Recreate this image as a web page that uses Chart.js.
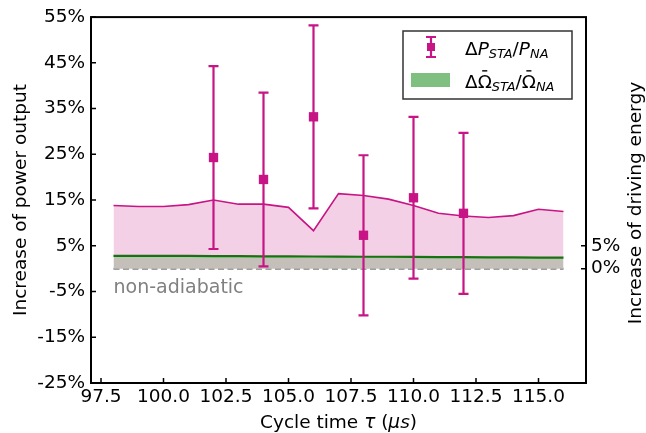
<!DOCTYPE html>
<html>
<head>
<meta charset="utf-8">
<script src="https://cdn.jsdelivr.net/npm/chart.js@4"></script>
<style>
  html, body { margin: 0; padding: 0; background: #fff; }
</style>
</head>
<body>
<canvas id="powerChart" width="646" height="433"></canvas>
<script>
// cycle times of the driving-energy band
const cycleTimes = [98, 99, 100, 101, 102, 103, 104, 105, 106, 107, 108, 109, 110, 111, 112, 113, 114, 115, 116];
const energyBand = [13.8, 13.6, 13.6, 14.0, 15.0, 14.1, 14.1, 13.4, 8.3, 16.4, 16.0, 15.2, 13.8, 12.1, 11.5, 11.2, 11.6, 13.0, 12.5];
const drivingEnergy = [2.8, 2.8, 2.8, 2.78, 2.75, 2.72, 2.7, 2.7, 2.66, 2.62, 2.6, 2.6, 2.56, 2.52, 2.5, 2.48, 2.45, 2.42, 2.4];

// measured power gain with error bars
const powerTimes = [102, 104, 106, 108, 110, 112];
const powerGain = [24.3, 19.5, 33.2, 7.3, 15.5, 12.1];
const powerErr = [20.0, 19.0, 20.0, 17.5, 17.7, 17.6];

const xTicks = [97.5, 100, 102.5, 105, 107.5, 110, 112.5, 115];
const leftTicks = [-25, -15, -5, 5, 15, 25, 35, 45, 55];
const rightTicks = [0, 5];

const FONT = '"DejaVu Sans", sans-serif';
const SIZE = 18.5;
const MAGENTA = '#c71585';

const pts = (xs, ys) => xs.map((x, i) => ({ x: x, y: ys[i] }));

// draw text made of upright / italic / subscript pieces
function drawRich(ctx, parts, x, y, size, align) {
  const fontOf = p => (p.italic ? 'italic ' : '') + (p.sub ? size * 0.7 : size) + 'px ' + FONT;
  let total = 0;
  parts.forEach(p => { ctx.font = fontOf(p); p.w = ctx.measureText(p.t).width; total += p.w; });
  let cx = align === 'center' ? x - total / 2 : x;
  ctx.textAlign = 'left';
  ctx.textBaseline = 'alphabetic';
  parts.forEach(p => {
    ctx.font = fontOf(p);
    ctx.fillText(p.t, cx, y + (p.sub ? size * 0.2 : 0));
    if (p.bar) {
      ctx.save();
      ctx.lineWidth = 1.4;
      ctx.strokeStyle = ctx.fillStyle;
      ctx.beginPath();
      ctx.moveTo(cx + p.w * 0.32, y - size * 0.9);
      ctx.lineTo(cx + p.w * 0.68, y - size * 0.9);
      ctx.stroke();
      ctx.restore();
    }
    cx += p.w;
  });
}

const errorBars = {
  id: 'errorBars',
  afterDatasetsDraw(chart) {
    const { ctx, scales: { x, y } } = chart;
    ctx.save();
    ctx.strokeStyle = MAGENTA;
    ctx.lineWidth = 2.2;
    powerTimes.forEach((t, i) => {
      const px = x.getPixelForValue(t);
      const top = y.getPixelForValue(powerGain[i] + powerErr[i]);
      const bot = y.getPixelForValue(powerGain[i] - powerErr[i]);
      ctx.beginPath();
      ctx.moveTo(px, top); ctx.lineTo(px, bot);
      ctx.moveTo(px - 5, top); ctx.lineTo(px + 5, top);
      ctx.moveTo(px - 5, bot); ctx.lineTo(px + 5, bot);
      ctx.stroke();
    });
    ctx.restore();
  }
};

const decorations = {
  id: 'decorations',
  afterDraw(chart) {
    const { ctx, chartArea: a, scales } = chart;
    ctx.save();

    // inward tick marks
    ctx.strokeStyle = '#000';
    ctx.lineWidth = 1.5;
    ctx.beginPath();
    scales.x.ticks.forEach(t => {
      const px = scales.x.getPixelForValue(t.value);
      ctx.moveTo(px, a.bottom); ctx.lineTo(px, a.bottom - 5);
    });
    scales.y.ticks.forEach(t => {
      const py = scales.y.getPixelForValue(t.value);
      ctx.moveTo(a.left, py); ctx.lineTo(a.left + 5, py);
    });
    scales.y2.ticks.forEach(t => {
      const py = scales.y2.getPixelForValue(t.value);
      ctx.moveTo(a.right, py); ctx.lineTo(a.right - 5, py);
    });
    ctx.stroke();

    // frame
    ctx.lineWidth = 2;
    ctx.strokeRect(a.left, a.top, a.right - a.left, a.bottom - a.top);

    // axis titles
    ctx.fillStyle = '#000';
    const midY = (a.top + a.bottom) / 2;
    ctx.save();
    ctx.translate(26, midY);
    ctx.rotate(-Math.PI / 2);
    drawRich(ctx, [{ t: 'Increase of power output' }], 0, 0, SIZE, 'center');
    ctx.restore();
    ctx.save();
    ctx.translate(641, midY + 3);
    ctx.rotate(-Math.PI / 2);
    drawRich(ctx, [{ t: 'Increase of driving energy' }], 0, 0, SIZE, 'center');
    ctx.restore();
    drawRich(ctx, [
      { t: 'Cycle time ' }, { t: 'τ', italic: true }, { t: ' (' },
      { t: 'μs', italic: true }, { t: ')' }
    ], (a.left + a.right) / 2, 428, SIZE, 'center');

    // reference level label
    ctx.fillStyle = '#808080';
    drawRich(ctx, [{ t: 'non-adiabatic' }], scales.x.getPixelForValue(98), scales.y.getPixelForValue(-5.3), 19, 'left');

    // legend
    ctx.fillStyle = '#fff';
    ctx.strokeStyle = '#333';
    ctx.lineWidth = 1.5;
    ctx.fillRect(403, 31, 169, 68);
    ctx.strokeRect(403, 31, 169, 68);

    ctx.strokeStyle = MAGENTA;
    ctx.fillStyle = MAGENTA;
    ctx.lineWidth = 2.2;
    ctx.beginPath();
    ctx.moveTo(431, 37); ctx.lineTo(431, 57);
    ctx.moveTo(426, 37); ctx.lineTo(436, 37);
    ctx.moveTo(426, 57); ctx.lineTo(436, 57);
    ctx.stroke();
    ctx.fillRect(427, 43, 8, 8);

    ctx.fillStyle = 'rgba(0, 128, 0, 0.5)';
    ctx.fillRect(411, 73, 39, 14);

    ctx.fillStyle = '#000';
    drawRich(ctx, [
      { t: 'Δ' }, { t: 'P', italic: true }, { t: 'STA', italic: true, sub: true },
      { t: '/' }, { t: 'P', italic: true }, { t: 'NA', italic: true, sub: true }
    ], 465, 54.5, SIZE, 'left');
    drawRich(ctx, [
      { t: 'Δ' }, { t: 'Ω', bar: true }, { t: 'STA', italic: true, sub: true },
      { t: '/' }, { t: 'Ω', bar: true }, { t: 'NA', italic: true, sub: true }
    ], 465, 87.5, SIZE, 'left');

    ctx.restore();
  }
};

const tickFont = { family: FONT, size: SIZE };
const noGrid = { display: false, drawTicks: false };

new Chart(document.getElementById('powerChart'), {
  type: 'line',
  data: {
    datasets: [
      {
        label: 'power gain',
        data: pts(powerTimes, powerGain),
        showLine: false,
        pointStyle: 'rect',
        pointRadius: 6.6,
        pointBorderWidth: 0,
        backgroundColor: MAGENTA,
        borderColor: MAGENTA
      },
      {
        label: 'energy band',
        data: pts(cycleTimes, energyBand),
        borderColor: MAGENTA,
        borderWidth: 1.6,
        backgroundColor: 'rgba(199, 21, 133, 0.2)',
        fill: '+1',
        pointRadius: 0,
        tension: 0
      },
      {
        label: 'driving energy',
        data: pts(cycleTimes, drivingEnergy),
        borderColor: '#008000',
        borderWidth: 2.2,
        backgroundColor: '#c4c0b9',
        fill: 'origin',
        pointRadius: 0
      },
      {
        label: 'non-adiabatic',
        data: pts(cycleTimes, cycleTimes.map(() => 0)),
        borderColor: '#808080',
        borderWidth: 2,
        borderDash: [6, 3.5],
        pointRadius: 0,
        fill: false
      }
    ]
  },
  options: {
    responsive: false,
    animation: false,
    layout: { padding: { top: 16, left: 0, right: 0, bottom: 0 } },
    plugins: {
      legend: { display: false },
      tooltip: { enabled: false }
    },
    scales: {
      x: {
        type: 'linear',
        min: 97.1,
        max: 116.9,
        afterBuildTicks: s => { s.ticks = xTicks.map(v => ({ value: v })); },
        afterFit: s => { s.height = 50; },
        ticks: {
          callback: v => v.toFixed(1),
          font: tickFont, color: '#000', padding: 3,
          autoSkip: false, maxRotation: 0
        },
        grid: noGrid,
        border: { display: false }
      },
      y: {
        position: 'left',
        min: -25,
        max: 55,
        afterBuildTicks: s => { s.ticks = leftTicks.map(v => ({ value: v })); },
        afterFit: s => { s.width = 91; },
        ticks: { callback: v => v + '%', font: tickFont, color: '#000', padding: 6 },
        grid: noGrid,
        border: { display: false }
      },
      y2: {
        position: 'right',
        min: -25,
        max: 55,
        afterBuildTicks: s => { s.ticks = rightTicks.map(v => ({ value: v })); },
        afterFit: s => { s.width = 60; },
        ticks: { callback: v => v + '%', font: tickFont, color: '#000', padding: 5 },
        grid: noGrid,
        border: { display: false }
      }
    }
  },
  plugins: [errorBars, decorations]
});
</script>
</body>
</html>
